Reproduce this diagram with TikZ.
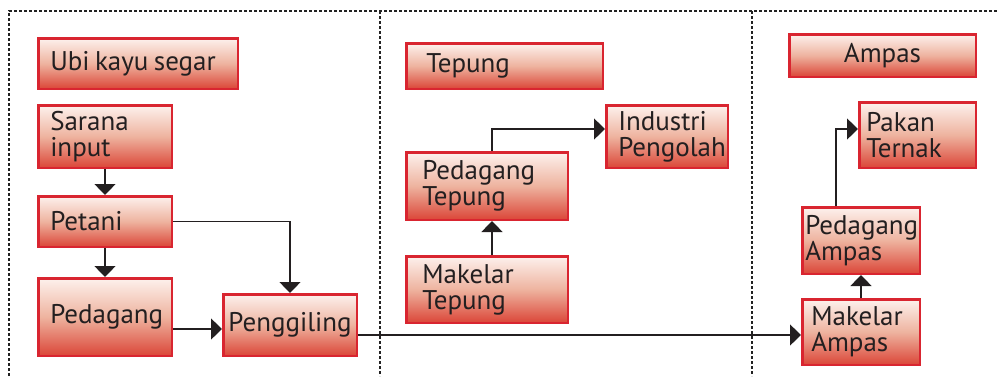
\documentclass[tikz,border=0pt]{standalone}
\usepackage{fontspec}
\setmainfont{PT Sans}
\usetikzlibrary{arrows.meta,calc}
\definecolor{bord}{HTML}{D92530}
\definecolor{ftop}{HTML}{FDF1ED}
\definecolor{fmid}{HTML}{EEB39F}
\definecolor{fbot}{HTML}{DB4638}
\definecolor{ink}{HTML}{231F20}
\definecolor{frame}{HTML}{222222}
\newcommand{\boxfont}{\fontsize{27}{26}\selectfont}
\tikzset{
  box/.style={draw=bord, line width=2.5pt, top color=ftop, bottom color=fbot, middle color=fmid,
    text=ink, font=\boxfont, inner ysep=0pt, align=left, anchor=center},
  cbox/.style={box, align=center},
  arr/.style={draw=ink, line width=1.3pt, -{Triangle[width=21pt,length=11pt]}},
  frm/.style={draw=frame, line width=1.2pt, dash pattern=on 3pt off 2pt}
}
\begin{document}
\begin{tikzpicture}[x=1pt,y=-1pt]
\useasboundingbox (0,0) rectangle (997,376);
% frame
\coordinate (f1) at (9,376);
\coordinate (f2) at (9,11);
\coordinate (f3) at (997,11);
\coordinate (d1t) at (380,11);
\coordinate (d1b) at (380,376);
\coordinate (d2t) at (752,11);
\coordinate (d2b) at (752,376);
\draw[frm] (f1) -- (f2) -- (f3);
\draw[frm] (d1t) -- (d1b);
\draw[frm] (d2t) -- (d2b);
% column 1
\node[box, minimum height=50.5pt, text width=175.5pt, inner xsep=12pt] (ubi) at (138,63.5) {\spaceskip=0.2em\relax Ubi kayu segar};
\node[box, minimum height=62.5pt, text width=109.5pt, inner xsep=12pt] (sarana) at (105,136.5) {Sarana\\input};
\node[box, minimum height=50.5pt, text width=109.5pt, inner xsep=12pt] (petani) at (105,221.5) {Petani};
\node[box, minimum height=77.5pt, text width=109.5pt, inner xsep=12pt] (pedagang) at (105,317) {Pedagang};
\node[cbox, minimum height=61.5pt, text width=123.5pt, inner xsep=5pt] (penggiling) at (290,325) {Penggiling};
% column 2
\node[box, minimum height=45.5pt, text width=156.5pt, inner xsep=20pt] (tepung) at (504.5,66) {Tepung};
\node[box, minimum height=62.5pt, text width=97.5pt, inner xsep=12pt] (industri) at (667,136.5) {Industri\\Pengolah};
\node[box, minimum height=67.5pt, text width=129.5pt, inner xsep=16pt] (pedtepung) at (487,186) {Pedagang\\Tepung};
\node[box, minimum height=66.5pt, text width=129.5pt, inner xsep=16pt] (maktepung) at (487,289.5) {Makelar\\Tepung};
% column 3
\node[cbox, minimum height=42.5pt, text width=176.5pt, inner xsep=5pt] (ampas) at (882.5,55.5) {Ampas};
\node[box, minimum height=65.5pt, text width=102.5pt, inner xsep=7pt] (pakan) at (917.5,135) {Pakan\\Ternak};
\node[box, minimum height=66.5pt, text width=111.5pt, inner xsep=3pt] (pedampas) at (861,240.5) {Pedagang\\Ampas};
\node[box, minimum height=65.5pt, text width=99.5pt, inner xsep=9pt] (makampas) at (861,332) {Makelar\\Ampas};
% connectors
\draw[arr] (sarana) -- (petani);
\draw[arr] (petani) -- (pedagang);
\draw[arr] (petani.east) -| (penggiling.north);
\coordinate (pa) at ($(penggiling.west)+(0,4)$);
\draw[arr] (pedagang.east |- pa) -- (pa);
\coordinate (pb) at ($(penggiling.east)+(0,10)$);
\draw[arr] (pb) -- (makampas.west |- pb);
\coordinate (ta) at ($(maktepung.north)+(5,0)$);
\draw[arr] (ta) -- (pedtepung.south -| ta);
\coordinate (tb) at ($(pedtepung.north)+(5,0)$);
\coordinate (tc) at ($(industri.west)+(0,-7.5)$);
\draw[arr] (tb) |- (tc);
\draw[arr] (makampas) -- (pedampas);
\coordinate (aa) at ($(pedampas.north)+(-25,0)$);
\coordinate (ab) at ($(pakan.west)+(0,-6)$);
\draw[arr] (aa) |- (ab);
\end{tikzpicture}
\end{document}
